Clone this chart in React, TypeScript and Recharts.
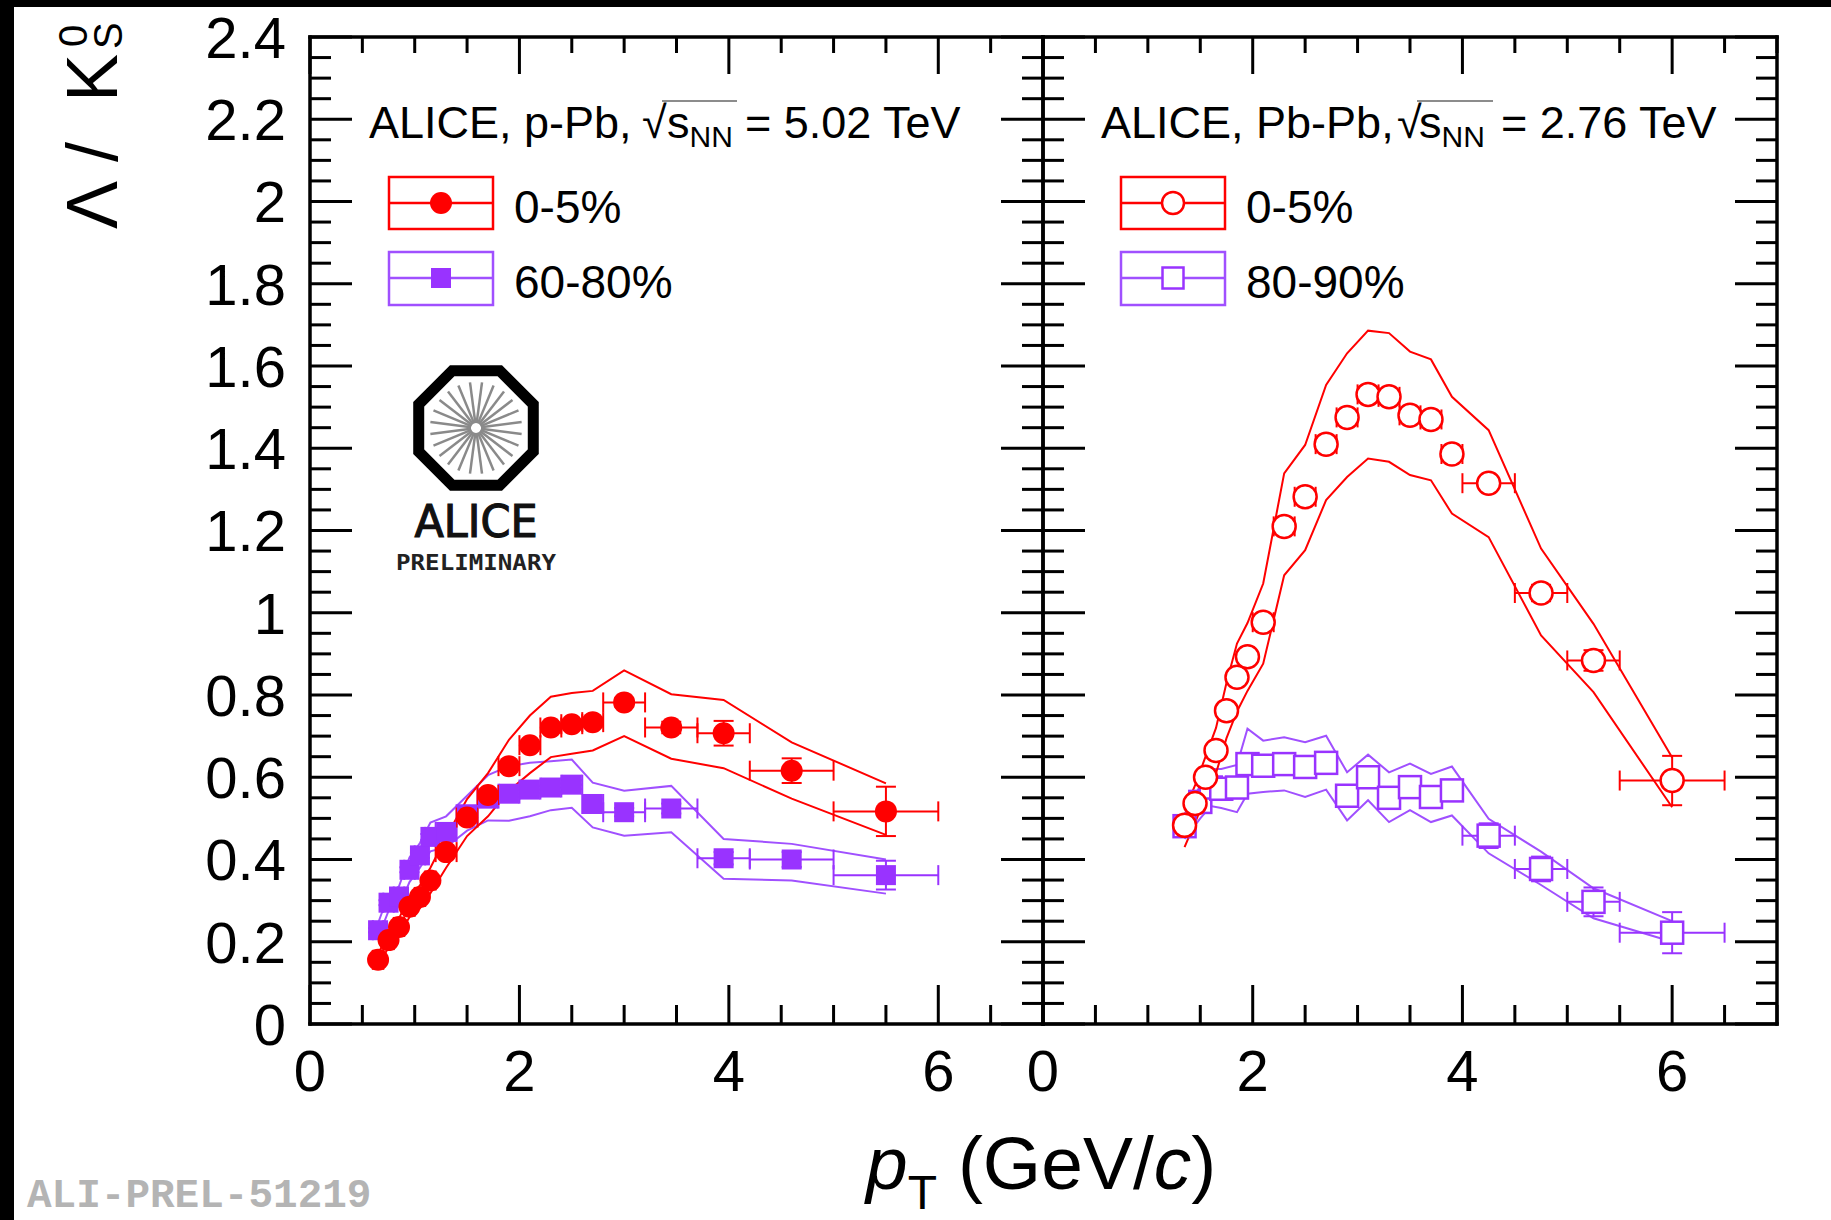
import { ComposedChart, Line, Scatter, XAxis, YAxis, ErrorBar } from 'recharts'

// ---- p-Pb, sqrt(sNN) = 5.02 TeV ----
const ppbPt = [0.65, 0.75, 0.85, 0.95, 1.05, 1.15, 1.3, 1.5, 1.7, 1.9, 2.1, 2.3, 2.5, 2.7, 3.0, 3.45, 3.95, 4.6, 5.5]
const ppbPtErr = [0.05, 0.05, 0.05, 0.05, 0.05, 0.05, 0.1, 0.1, 0.1, 0.1, 0.1, 0.1, 0.1, 0.1, 0.2, 0.25, 0.25, 0.4, 0.5]

const ppb05 = [0.156, 0.204, 0.236, 0.285, 0.309, 0.349, 0.418, 0.502, 0.557, 0.627, 0.678, 0.721, 0.729, 0.734, 0.782, 0.721, 0.707, 0.616, 0.517]
const ppb05Stat = [0.004, 0.004, 0.004, 0.005, 0.005, 0.005, 0.005, 0.006, 0.006, 0.007, 0.008, 0.009, 0.01, 0.011, 0.01, 0.014, 0.03, 0.03, 0.06]
const ppb05SysHi = [0.17, 0.222, 0.257, 0.31, 0.337, 0.38, 0.455, 0.547, 0.61, 0.691, 0.75, 0.796, 0.805, 0.81, 0.86, 0.802, 0.788, 0.685, 0.585]
const ppb05SysLo = [0.142, 0.186, 0.215, 0.26, 0.281, 0.318, 0.38, 0.457, 0.505, 0.567, 0.61, 0.649, 0.657, 0.665, 0.7, 0.645, 0.622, 0.548, 0.46]

const ppb6080 = [0.228, 0.295, 0.31, 0.375, 0.41, 0.455, 0.467, 0.51, 0.548, 0.56, 0.57, 0.575, 0.582, 0.535, 0.515, 0.524, 0.403, 0.4, 0.362]
const ppb6080Stat = [0.005, 0.006, 0.006, 0.006, 0.006, 0.007, 0.006, 0.006, 0.007, 0.008, 0.009, 0.01, 0.011, 0.013, 0.01, 0.012, 0.015, 0.018, 0.035]
const ppb6080SysHi = [0.245, 0.315, 0.335, 0.405, 0.44, 0.49, 0.505, 0.555, 0.605, 0.627, 0.635, 0.639, 0.643, 0.587, 0.567, 0.579, 0.45, 0.438, 0.4]
const ppb6080SysLo = [0.21, 0.275, 0.285, 0.345, 0.38, 0.42, 0.43, 0.47, 0.495, 0.494, 0.505, 0.52, 0.526, 0.478, 0.458, 0.466, 0.353, 0.349, 0.317]

// ---- Pb-Pb, sqrt(sNN) = 2.76 TeV ----
const pbpb05Pt = [1.35, 1.45, 1.55, 1.65, 1.75, 1.85, 1.95, 2.1, 2.3, 2.5, 2.7, 2.9, 3.1, 3.3, 3.5, 3.7, 3.9, 4.25, 4.75, 5.25, 6.0]
const pbpb05PtErr = [0.05, 0.05, 0.05, 0.05, 0.05, 0.05, 0.05, 0.1, 0.1, 0.1, 0.1, 0.1, 0.1, 0.1, 0.1, 0.1, 0.1, 0.25, 0.25, 0.25, 0.5]
const pbpb05 = [0.483, 0.536, 0.6, 0.665, 0.762, 0.843, 0.893, 0.977, 1.21, 1.282, 1.41, 1.475, 1.531, 1.525, 1.48, 1.47, 1.386, 1.315, 1.048, 0.884, 0.592]
const pbpb05Stat = [0.005, 0.005, 0.006, 0.006, 0.007, 0.007, 0.008, 0.008, 0.009, 0.01, 0.01, 0.011, 0.012, 0.012, 0.013, 0.014, 0.015, 0.015, 0.02, 0.025, 0.06]
const pbpb05SysHi = [0.52, 0.58, 0.65, 0.72, 0.83, 0.925, 0.975, 1.071, 1.339, 1.408, 1.554, 1.631, 1.686, 1.68, 1.635, 1.616, 1.525, 1.444, 1.156, 0.973, 0.648]
const pbpb05SysLo = [0.43, 0.49, 0.55, 0.61, 0.695, 0.76, 0.81, 0.876, 1.091, 1.152, 1.274, 1.33, 1.375, 1.367, 1.335, 1.322, 1.241, 1.184, 0.945, 0.807, 0.527]

const pbpb8090Pt = [1.35, 1.5, 1.6, 1.7, 1.85, 1.95, 2.1, 2.3, 2.5, 2.7, 2.9, 3.1, 3.3, 3.5, 3.7, 3.9, 4.25, 4.75, 5.25, 6.0]
const pbpb8090PtErr = [0.05, 0.05, 0.05, 0.05, 0.05, 0.05, 0.1, 0.1, 0.1, 0.1, 0.1, 0.1, 0.1, 0.1, 0.1, 0.1, 0.25, 0.25, 0.25, 0.5]
const pbpb8090 = [0.481, 0.54, 0.575, 0.572, 0.575, 0.632, 0.628, 0.632, 0.625, 0.635, 0.555, 0.6, 0.55, 0.576, 0.552, 0.568, 0.458, 0.377, 0.297, 0.222]
const pbpb8090Stat = [0.01, 0.01, 0.01, 0.012, 0.012, 0.012, 0.012, 0.012, 0.014, 0.015, 0.02, 0.02, 0.022, 0.025, 0.025, 0.025, 0.03, 0.03, 0.035, 0.05]
const pbpb8090SysHi = [0.51, 0.58, 0.62, 0.62, 0.63, 0.718, 0.689, 0.697, 0.685, 0.701, 0.612, 0.655, 0.612, 0.633, 0.608, 0.626, 0.499, 0.419, 0.33, 0.25]
const pbpb8090SysLo = [0.45, 0.5, 0.53, 0.525, 0.515, 0.56, 0.564, 0.568, 0.552, 0.57, 0.495, 0.544, 0.491, 0.52, 0.491, 0.507, 0.415, 0.338, 0.257, 0.2]

// ---- axes ----
const xTickVals = [0, 0.5, 1, 1.5, 2, 2.5, 3, 3.5, 4, 4.5, 5, 5.5, 6, 6.5, 7]
const xLabelVals = [0, 2, 4, 6]
const yLabelVals = [0, 0.2, 0.4, 0.6, 0.8, 1, 1.2, 1.4, 1.6, 1.8, 2, 2.2, 2.4]
const yTickVals = Array.from({ length: 49 }, (_, i) => +(i * 0.05).toFixed(2))

const RED = '#ff0000'
const VIOLET = '#9933ff'
const VIOLET_LINE = '#a050ff'
const FONT = '"Liberation Sans", Arial, Helvetica, sans-serif'

const rows = (xs: number[], ex: number[], ys: number[], ey: number[], hi: number[], lo: number[]) =>
  xs.map((x, i) => ({ x, ex: ex[i], y: ys[i], ey: ey[i], hi: hi[i], lo: lo[i] }))

const ppb05Rows = rows(ppbPt, ppbPtErr, ppb05, ppb05Stat, ppb05SysHi, ppb05SysLo)
const ppb6080Rows = rows(ppbPt, ppbPtErr, ppb6080, ppb6080Stat, ppb6080SysHi, ppb6080SysLo)
const pbpb05Rows = rows(pbpb05Pt, pbpb05PtErr, pbpb05, pbpb05Stat, pbpb05SysHi, pbpb05SysLo)
const pbpb8090Rows = rows(pbpb8090Pt, pbpb8090PtErr, pbpb8090, pbpb8090Stat, pbpb8090SysHi, pbpb8090SysLo)

const fmt = (v: number) => String(parseFloat(v.toFixed(2)))

function makeTick(side: string, majors: number[], majorLen: number, minorLen: number, labels: boolean) {
  // eslint-disable-next-line @typescript-eslint/no-explicit-any
  return (p: any) => {
    const v = p.payload.value
    const major = majors.some(m => Math.abs(m - v) < 1e-6)
    const len = major ? majorLen : minorLen
    const { x, y } = p
    const s = side === 'bottom' ? [x, y, x, y - len]
      : side === 'top' ? [x, y, x, y + len]
      : side === 'left' ? [x, y, x + len, y]
      : [x, y, x - len, y]
    return (
      <g>
        <line x1={s[0]} y1={s[1]} x2={s[2]} y2={s[3]} stroke="#000" strokeWidth={3} />
        {labels && major && side === 'bottom' && (
          <text x={x} y={y + 67} textAnchor="middle" fontSize={58} fontFamily={FONT} fill="#000">{fmt(v)}</text>
        )}
        {labels && major && side === 'left' && (
          <text x={x - 24} y={y} dy="0.36em" textAnchor="end" fontSize={58} fontFamily={FONT} fill="#000">{fmt(v)}</text>
        )}
      </g>
    )
  }
}

const axisLine = { stroke: '#000', strokeWidth: 3.5, strokeLinecap: 'square' as const }

function frameAxes(yLabels: boolean, leftWidth: number) {
  return [
    <XAxis key="xb" xAxisId="b" dataKey="x" type="number" domain={[0, 7]} allowDataOverflow ticks={xTickVals} interval={0}
      height={100} tickSize={0} tickMargin={0} tickLine={false} axisLine={axisLine} tick={makeTick('bottom', xLabelVals, 39, 19, true)} />,
    <XAxis key="xt" xAxisId="t" orientation="top" dataKey="x" type="number" domain={[0, 7]} allowDataOverflow ticks={xTickVals} interval={0}
      height={10} tickSize={0} tickMargin={0} tickLine={false} axisLine={axisLine} tick={makeTick('top', xLabelVals, 37, 16, false)} />,
    <YAxis key="yl" yAxisId="l" type="number" domain={[0, 2.4]} allowDataOverflow ticks={yTickVals} interval={0}
      width={leftWidth} tickSize={0} tickMargin={0} tickLine={false} axisLine={axisLine} tick={makeTick('left', yLabelVals, 42, 21, yLabels)} />,
    <YAxis key="yr" yAxisId="r" orientation="right" type="number" domain={[0, 2.4]} allowDataOverflow ticks={yTickVals} interval={0}
      width={10} tickSize={0} tickMargin={0} tickLine={false} axisLine={axisLine} tick={makeTick('right', yLabelVals, 42, 21, false)} />,
  ]
}

// eslint-disable-next-line @typescript-eslint/no-explicit-any
const filledCircle = (c: string) => (p: any) => <circle cx={p.cx} cy={p.cy} r={11} fill={c} />
// eslint-disable-next-line @typescript-eslint/no-explicit-any
const filledSquare = (c: string) => (p: any) => <rect x={p.cx - 10} y={p.cy - 10} width={20} height={20} fill={c} />
// eslint-disable-next-line @typescript-eslint/no-explicit-any
const openCircle = (c: string) => (p: any) => <circle cx={p.cx} cy={p.cy} r={11.5} fill="#fff" stroke={c} strokeWidth={2.5} />
// eslint-disable-next-line @typescript-eslint/no-explicit-any
const openSquare = (c: string) => (p: any) => <rect x={p.cx - 11} y={p.cy - 11} width={22} height={22} fill="#fff" stroke={c} strokeWidth={2.5} />

// eslint-disable-next-line @typescript-eslint/no-explicit-any
function band(data: any[], color: string) {
  return [
    <Line key={color + 'hi'} xAxisId="t" yAxisId="r" data={data} dataKey="hi" type="linear" stroke={color} strokeWidth={2} dot={false} isAnimationActive={false} />,
    <Line key={color + 'lo'} xAxisId="t" yAxisId="r" data={data} dataKey="lo" type="linear" stroke={color} strokeWidth={2} dot={false} isAnimationActive={false} />,
  ]
}

// eslint-disable-next-line @typescript-eslint/no-explicit-any
function points(data: any[], color: string, shape: any) {
  return (
    <Scatter xAxisId="b" yAxisId="l" data={data} dataKey="y" shape={shape} isAnimationActive={false}>
      <ErrorBar dataKey="ex" direction="x" width={10} stroke={color} strokeWidth={2} />
      <ErrorBar dataKey="ey" direction="y" width={10} stroke={color} strokeWidth={2} />
    </Scatter>
  )
}

// offsets of the pieces of the header, measured from its left edge
function Legend({ x, title, energy, labels, open, sq, s, eq }: { x: number; title: string; energy: string; labels: string[]; open: boolean; sq: number; s: number; eq: number }) {
  const bx = x + 20
  const mx = bx + 52
  return (
    <g fontFamily={FONT}>
      <text x={x} y={138} fontSize={45} fill="#000">{title}</text>
      <text x={x + sq} y={138} fontSize={45} fill="#000">√</text>
      <line x1={x + sq + 20} y1={101} x2={x + eq - 8} y2={101} stroke="#666" strokeWidth={1.5} />
      <text x={x + s} y={138} fontSize={45} fill="#000">
        s<tspan fontSize={30} dy={9}>NN</tspan>
      </text>
      <text x={x + eq} y={138} fontSize={45} fill="#000">= {energy}</text>

      <rect x={bx} y={177} width={104} height={52} fill="none" stroke={RED} strokeWidth={2.5} />
      <line x1={bx} y1={203} x2={bx + 104} y2={203} stroke={RED} strokeWidth={2.5} />
      {open
        ? <circle cx={mx} cy={203} r={11} fill="#fff" stroke={RED} strokeWidth={2.5} />
        : <circle cx={mx} cy={203} r={11} fill={RED} />}
      <text x={bx + 125} y={223} fontSize={46} fill="#000">{labels[0]}</text>

      <rect x={bx} y={252} width={104} height={53} fill="none" stroke={VIOLET_LINE} strokeWidth={2.5} />
      <line x1={bx} y1={278} x2={bx + 104} y2={278} stroke={VIOLET_LINE} strokeWidth={2.5} />
      {open
        ? <rect x={mx - 10.5} y={267.5} width={21} height={21} fill="#fff" stroke={VIOLET} strokeWidth={2.5} />
        : <rect x={mx - 10} y={268} width={20} height={20} fill={VIOLET} />}
      <text x={bx + 125} y={298} fontSize={46} fill="#000">{labels[1]}</text>
    </g>
  )
}

function AliceLogo() {
  const cx = 476
  const cy = 428
  const R = 62
  const oct = Array.from({ length: 8 }, (_, k) => {
    const a = ((22.5 + 45 * k) * Math.PI) / 180
    return `${cx + R * Math.cos(a)},${cy + R * Math.sin(a)}`
  }).join(' ')
  const rays = Array.from({ length: 24 }, (_, k) => {
    const a = ((7.5 + 15 * k) * Math.PI) / 180
    return <line key={k} x1={cx + 5 * Math.cos(a)} y1={cy + 5 * Math.sin(a)} x2={cx + 46 * Math.cos(a)} y2={cy + 46 * Math.sin(a)} stroke="#8a8a8a" strokeWidth={2.5} />
  })
  return (
    <g>
      <polygon points={oct} fill="#fff" stroke="#000" strokeWidth={11} strokeLinejoin="miter" />
      {rays}
      <text x={cx} y={537} textAnchor="middle" fontSize={44} fontFamily='"DejaVu Sans", sans-serif' stroke="#111" strokeWidth={1.2}
        textLength={123} lengthAdjust="spacingAndGlyphs" fill="#111">ALICE</text>
      <text x={cx} y={570} textAnchor="middle" fontSize={21} fontWeight="bold" fontFamily='"DejaVu Sans Mono", monospace'
        textLength={160} lengthAdjust="spacingAndGlyphs" fill="#222">PRELIMINARY</text>
    </g>
  )
}

export default function App() {
  return (
    <div style={{ position: 'absolute', left: 0, top: 0, width: 1831, height: 1220, background: '#fff', overflow: 'hidden' }}>
      <div style={{ position: 'absolute', left: 0, top: 0 }}>
        <ComposedChart width={1053} height={1124} margin={{ top: 27, right: 0, bottom: 0, left: 10 }}>
          {frameAxes(true, 300)}
          {band(ppb6080Rows, VIOLET_LINE)}
          {band(ppb05Rows, RED)}
          {points(ppb6080Rows, VIOLET, filledSquare(VIOLET))}
          {points(ppb05Rows, RED, filledCircle(RED))}
        </ComposedChart>
      </div>
      <div style={{ position: 'absolute', left: 983, top: 0 }}>
        <ComposedChart width={848} height={1124} margin={{ top: 27, right: 44, bottom: 0, left: 50 }}>
          {frameAxes(false, 10)}
          {band(pbpb8090Rows, VIOLET_LINE)}
          {band(pbpb05Rows, RED)}
          {points(pbpb8090Rows, VIOLET, openSquare(VIOLET))}
          {points(pbpb05Rows, RED, openCircle(RED))}
        </ComposedChart>
      </div>
      <svg width={1831} height={1220} style={{ position: 'absolute', left: 0, top: 0, pointerEvents: 'none' }}>
        <rect x={0} y={0} width={1831} height={7} fill="#000" />
        <rect x={0} y={0} width={14} height={1220} fill="#000" />

        <Legend x={369} title="ALICE, p-Pb, " energy="5.02 TeV" labels={['0-5%', '60-80%']} open={false} sq={273} s={298} eq={376} />
        <Legend x={1101} title="ALICE, Pb-Pb, " energy="2.76 TeV" labels={['0-5%', '80-90%']} open={true} sq={296} s={318} eq={400} />
        <AliceLogo />

        <g transform="translate(117, 0) rotate(-90)" fontFamily={FONT} fill="#000">
          <text x={-229} y={0} fontSize={72}>Λ</text>
          <text x={-162} y={0} fontSize={72}>/</text>
          <text x={-102} y={0} fontSize={72}>K</text>
          <text x={-47} y={-30} fontSize={40}>0</text>
          <text x={-49} y={5} fontSize={40}>S</text>
        </g>

        <text x={866} y={1189} fontSize={75} fontFamily={FONT} fill="#000">
          <tspan fontStyle="italic">p</tspan><tspan fontSize={48} dy={20}>T</tspan><tspan dy={-20}> (GeV/</tspan><tspan fontStyle="italic">c</tspan>)
        </text>

        <text x={27} y={1207} fontSize={41} fontWeight="bold" fontFamily='"Liberation Mono", "Courier New", monospace' fill="#b4b4b4">ALI-PREL-51219</text>
      </svg>
    </div>
  )
}
